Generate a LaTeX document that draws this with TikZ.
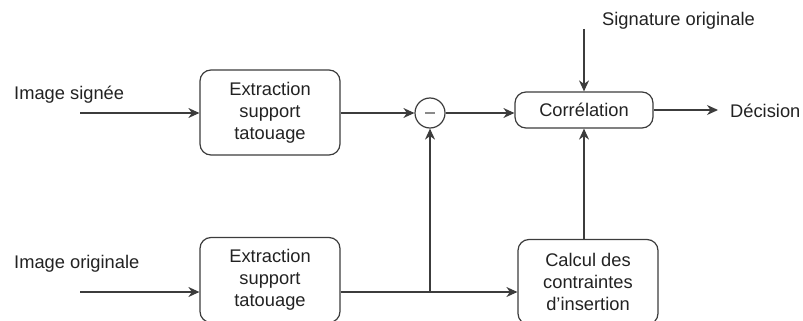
\documentclass[tikz,border=0pt]{standalone}
\usepackage{fontspec}
\setmainfont{Liberation Sans}
\usetikzlibrary{arrows.meta}
\definecolor{ink}{HTML}{222222}
\definecolor{wire}{HTML}{3C3C3C}
\tikzset{
  every node/.style={font=\fontsize{18.3}{22}\selectfont, text=ink},
  block/.style={draw=wire, line width=1.2pt, rounded corners=11pt, align=center,
                inner sep=0pt},
  lbl/.style={inner sep=0pt},
  flow/.style={draw=wire, line width=1.2pt, -{Stealth[length=11pt,width=10pt,inset=3.5pt]}},
}
\begin{document}
\begin{tikzpicture}[x=1pt,y=-1pt]
  \useasboundingbox (0,0) rectangle (803,321);
  \clip (0,0) rectangle (803,321);

  % processing blocks
  \node[block, minimum width=140pt, minimum height=85pt] (ext1) at (270,112.5)
    {Extraction\\support\\tatouage};
  \node[block, minimum width=140pt, minimum height=85pt] (ext2) at (270,280)
    {Extraction\\support\\tatouage};
  \node[block, minimum width=138pt, minimum height=36pt] (corr) at (584,110)
    {Corrélation};
  \node[block, minimum width=140pt, minimum height=85pt] (calc) at (588,282)
    {Calcul des\\contraintes\\d'insertion};

  % subtraction junction
  \node[draw=wire, line width=1.2pt, circle, minimum size=30pt, inner sep=0pt] (sub) at (430,113) {};
  \draw[draw=wire!60, line width=1.6pt] ([xshift=-5pt]sub.center) -- ([xshift=5pt]sub.center);

  % inputs and outputs
  \node[lbl, anchor=west] (insig) at (14,95) {Image signée};
  \node[lbl, anchor=west] (inorig) at (14,264) {Image originale};
  \node[lbl, anchor=west] (sigo) at (602,21) {Signature originale};
  \node[lbl, anchor=west] (dec) at (730,111) {Décision};

  \coordinate (a1) at (80,113);
  \coordinate (a2) at (80,292);
  \coordinate (s1) at (584,29);
  \coordinate (d1) at (718,110);

  % connectors
  \draw[flow] (a1) -- (ext1.west |- a1);
  \draw[flow] (ext1.east |- sub) -- (sub.west);
  \draw[flow] (sub.east) -- (corr.west |- sub);
  \draw[flow] (s1) -- (corr.north);
  \draw[flow] (corr.east) -- (d1 |- corr.east);

  \draw[flow] (a2) -- (ext2.west |- a2);
  \draw[flow] (ext2.east |- a2) -- (calc.west |- a2);
  \draw[flow] (sub.south |- a2) -- (sub.south);
  \draw[flow] (corr.south |- calc.north) -- (corr.south);
\end{tikzpicture}
\end{document}
